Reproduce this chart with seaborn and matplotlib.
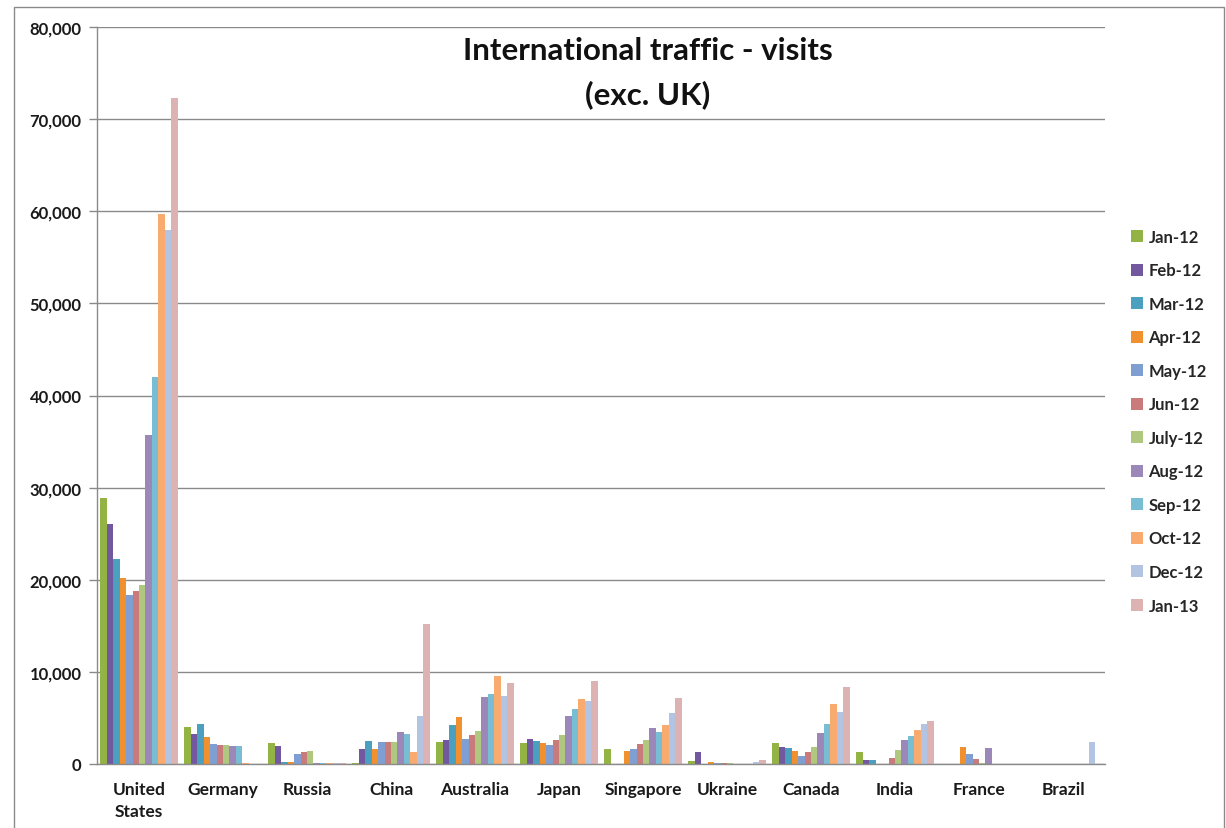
import matplotlib
matplotlib.use("Agg")
import matplotlib.pyplot as plt
import matplotlib.patches as mpatches
import seaborn as sns
import pandas as pd
import numpy as np

countries = ["United\nStates", "Germany", "Russia", "China", "Australia", "Japan",
             "Singapore", "Ukraine", "Canada", "India", "France", "Brazil"]
months = ["Jan-12", "Feb-12", "Mar-12", "Apr-12", "May-12", "Jun-12",
          "July-12", "Aug-12", "Sep-12", "Oct-12", "Dec-12", "Jan-13"]

jan12 = [28900, 4000, 2300, 150, 2400, 2300, 1600, 300, 2250, 1300, 0, 0]
feb12 = [26000, 3300, 1900, 1600, 2650, 2750, 0, 1250, 1800, 400, 0, 0]
mar12 = [22300, 4300, 250, 2450, 4200, 2450, 0, 0, 1750, 400, 0, 0]
apr12 = [20200, 2950, 200, 1600, 5100, 2250, 1450, 180, 1400, 0, 1850, 0]
may12 = [18300, 2150, 1050, 2350, 2750, 2050, 1600, 150, 850, 0, 1050, 0]
jun12 = [18800, 2100, 1300, 2350, 3150, 2600, 2150, 150, 1300, 700, 500, 0]
jul12 = [19400, 2050, 1450, 2350, 3600, 3200, 2650, 100, 1800, 1550, 100, 0]
aug12 = [35700, 1950, 100, 3500, 7300, 5200, 3950, 0, 3350, 2600, 1750, 0]
sep12 = [42000, 1950, 100, 3300, 7650, 5950, 3500, 0, 4300, 3000, 0, 0]
oct12 = [59700, 80, 80, 1300, 9600, 7050, 4250, 0, 6550, 3700, 0, 0]
dec12 = [58000, 0, 100, 5200, 7400, 6850, 5500, 250, 5650, 4300, 0, 2400]
jan13 = [72300, 0, 80, 15200, 8800, 9000, 7200, 450, 8350, 4650, 0, 0]

series = [jan12, feb12, mar12, apr12, may12, jun12, jul12, aug12, sep12, oct12, dec12, jan13]

colors = ["#93B444", "#71589F", "#4BA0C0", "#F0902F", "#7F9FD2", "#C97B7B",
          "#AFC77F", "#9B87B8", "#78BDD4", "#F9AA6E", "#B3C4E2", "#DDB2B2"]

rows = []
for m, vals in zip(months, series):
    for c, v in zip(countries, vals):
        rows.append({"country": c, "month": m, "visits": v})
df = pd.DataFrame(rows)

sns.set_theme(style="white")
plt.rcParams['font.family'] = ['Lato', 'DejaVu Sans']

fig = plt.figure(figsize=(12.26, 8.29), dpi=100)
ax = fig.add_axes([97 / 1226, 1 - 765 / 829, (1105 - 97) / 1226, (765 - 28) / 829])

sns.barplot(data=df, x="country", y="visits", hue="month", order=countries,
            hue_order=months, palette=colors, errorbar=None, width=0.92,
            ax=ax, saturation=1, linewidth=0)

ax.set_ylim(0, 80000)
ax.set_xlim(-0.5, len(countries) - 0.5)
ax.set_yticks(np.arange(0, 80001, 10000))
ax.set_yticklabels([f"{v:,}" for v in range(0, 80001, 10000)],
                   fontsize=12, fontweight="bold", color="#1a1a1a")
ax.yaxis.grid(True, color="#8a8a8a", linewidth=1)
ax.set_axisbelow(True)
ax.set_xlabel("")
ax.set_ylabel("")

ax.set_xticks(range(len(countries)))
ax.set_xticklabels(countries, fontsize=12.5, fontweight="bold", color="#1a1a1a",
                   linespacing=1.45)
ax.set_xticks(np.arange(-0.5, len(countries), 1), minor=True)
ax.tick_params(axis="x", which="major", length=0, pad=12)
ax.tick_params(axis="x", which="minor", length=7, width=1, color="#8a8a8a", direction="out")
ax.tick_params(axis="y", which="major", length=6, width=1, color="#8a8a8a", direction="out", left=True, pad=5)

for s in ["top", "right"]:
    ax.spines[s].set_visible(False)
for s in ["left", "bottom"]:
    ax.spines[s].set_color("#8a8a8a")
    ax.spines[s].set_linewidth(1)

handles, labels = ax.get_legend_handles_labels()
ax.legend(handles, labels, loc="upper left", bbox_to_anchor=(1131 / 1226, 1 - 230 / 829),
          bbox_transform=fig.transFigure, frameon=False, prop={"size": 12, "weight": "bold"},
          handlelength=0.7, handleheight=0.7, handletextpad=0.35, labelspacing=1.05,
          borderaxespad=0, borderpad=0)

fig.text(648 / 1226, 1 - 51 / 829, "International traffic - visits", ha="center", va="center",
         fontsize=22.5, fontweight="bold", color="#111111")
fig.text(648 / 1226, 1 - 95 / 829, "(exc. UK)", ha="center", va="center",
         fontsize=22.5, fontweight="bold", color="#111111")

border = mpatches.Rectangle((14 / 1226, -0.02), (1224 - 14) / 1226, 1.02 - 8 / 829,
                            transform=fig.transFigure, fill=False, edgecolor="#8a8a8a",
                            linewidth=1)
fig.add_artist(border)

fig.savefig("out.png", dpi=100)
